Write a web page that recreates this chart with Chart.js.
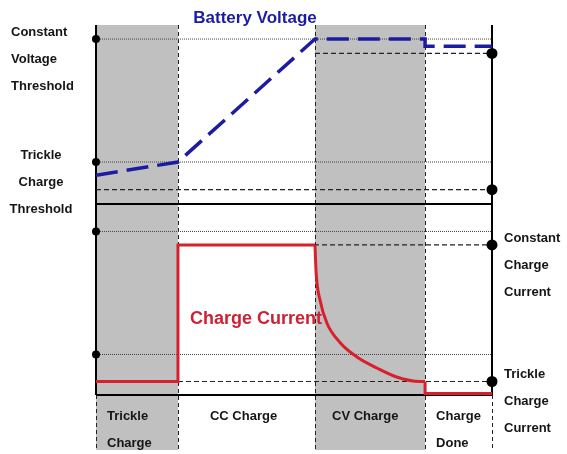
<!DOCTYPE html>
<html><head><meta charset="utf-8">
<script src="https://cdn.jsdelivr.net/npm/chart.js@4/dist/chart.umd.min.js"></script>
<style>html,body{margin:0;padding:0;background:#fff;}#wrap{width:567px;height:454px;position:relative;}</style>
</head><body><div id="wrap"><canvas id="c" width="567" height="454"></canvas></div>
<script>
// ---- data (time in % of cycle, voltage in V, current relative to CC current) ----
const phaseBounds = [0, 20.7, 55.3, 83.1, 100];
const phaseLabels = [["Trickle", "Charge"], ["CC Charge"], ["CV Charge"], ["Charge", "Done"]];
const shadedPhases = [0, 2];
const voltTimes = [0, 20.7, 55.3, 83.1, 83.1, 100];
const voltValues = [2.87, 3.0, 4.2, 4.2, 4.13, 4.13];
const currStepTimes = [0, 20.7, 20.7, 55.3];
const currStepValues = [0.09, 0.09, 1.0, 1.0];
const cvTimes = [55.3, 55.6, 56.6, 58.3, 61.6, 65.8, 70.9, 75.9, 81.8, 83.1];
const cvValues = [1.0, 0.81, 0.63, 0.48, 0.35, 0.255, 0.18, 0.12, 0.09, 0.09];
const doneTimes = [83.1, 83.1, 100];
const doneValues = [0.09, 0.01, 0.01];
const voltThresholds = [4.2, 3.0];
const voltLevels = [4.06, 2.73];
const voltLevelStarts = [55.3, 0];
const currThresholds = [1.09, 0.27];
const currLevels = [1.0, 0.09];
const currLevelStarts = [20.7, 20.7];
const leftLabelGroups = [["Constant", "Voltage", "Threshold"], ["Trickle", "Charge", "Threshold"]];
const rightLabelGroups = [["Constant", "Charge", "Current"], ["Trickle", "Charge", "Current"]];
const voltTitle = "Battery Voltage";
const currTitle = "Charge Current";

// ---- styling / layout ----
const FONT = '"Liberation Sans", Arial, sans-serif';
const BLUE = '#1c1ca2', RED = '#d8202c', GRAY = '#c0c0c0', INK = '#151515';
const pts = (xs, ys) => xs.map((x, i) => ({x, y: ys[i]}));

const datasets = [
  {data: pts(voltTimes, voltValues), yAxisID: 'yV', borderColor: BLUE, borderWidth: 3.5, borderDash: [22, 9], pointRadius: 0, tension: 0},
  {data: pts(currStepTimes, currStepValues), yAxisID: 'yI', borderColor: RED, borderWidth: 3, pointRadius: 0, tension: 0},
  {data: pts(cvTimes, cvValues), yAxisID: 'yI', borderColor: RED, borderWidth: 3, pointRadius: 0, cubicInterpolationMode: 'monotone'},
  {data: pts(doneTimes, doneValues), yAxisID: 'yI', borderColor: RED, borderWidth: 3, pointRadius: 0, tension: 0},
];
function refLine(axis, v, start, dotted) {
  return {data: [{x: start, y: v}, {x: 100, y: v}], yAxisID: axis, borderColor: dotted ? '#444' : '#222', borderWidth: dotted ? 1 : 1.2,
    borderDash: dotted ? [1, 1] : [5, 3], pointRadius: dotted ? [4, 0] : [0, 5.5], pointBackgroundColor: '#000',
    pointBorderWidth: 0, clip: false, tension: 0};
}
voltThresholds.forEach(v => datasets.push(refLine('yV', v, 0, true)));
voltLevels.forEach((v, i) => datasets.push(refLine('yV', v, voltLevelStarts[i], false)));
currThresholds.forEach(v => datasets.push(refLine('yI', v, 0, true)));
currLevels.forEach((v, i) => datasets.push(refLine('yI', v, currLevelStarts[i], false)));

const phaseLabelInset = [11, 32, 17, 11];

const diagram = {
  id: 'diagram',
  beforeDatasetsDraw(chart) {
    const {ctx, chartArea: a, scales: {x, yV, yI}} = chart;
    const bottom = a.bottom + 55;
    ctx.save();
    ctx.fillStyle = GRAY;
    shadedPhases.forEach(p => {
      const x0 = x.getPixelForValue(phaseBounds[p]), x1 = x.getPixelForValue(phaseBounds[p + 1]);
      ctx.fillRect(x0, a.top, x1 - x0, bottom - a.top);
    });
    ctx.strokeStyle = '#222'; ctx.lineWidth = 1; ctx.setLineDash([4, 3]);
    phaseBounds.forEach((b, i) => {
      const px = Math.round(x.getPixelForValue(b)) + 0.5;
      const inner = i > 0 && i < phaseBounds.length - 1;
      ctx.beginPath(); ctx.moveTo(px, inner ? a.top : a.bottom); ctx.lineTo(px, bottom); ctx.stroke();
    });
    ctx.setLineDash([]); ctx.strokeStyle = '#000'; ctx.lineWidth = 2;
    [phaseBounds[0], phaseBounds[phaseBounds.length - 1]].forEach(b => {
      const px = x.getPixelForValue(b);
      ctx.beginPath(); ctx.moveTo(px, a.top); ctx.lineTo(px, a.bottom); ctx.stroke();
    });
    [yV.bottom, yI.getPixelForValue(0)].forEach(py => {
      ctx.beginPath(); ctx.moveTo(a.left, py); ctx.lineTo(a.right, py); ctx.stroke();
    });
    ctx.restore();
  },
  afterDatasetsDraw(chart) {
    const {ctx, chartArea: a, scales: {x, yV, yI}} = chart;
    ctx.save();
    ctx.fillStyle = INK; ctx.textBaseline = 'alphabetic';
    ctx.font = 'bold 13px ' + FONT;
    const lh = 27;
    const leftAnchors = [yV.getPixelForValue(voltThresholds[0]), yV.getPixelForValue(voltThresholds[1])];
    leftLabelGroups.forEach((g, gi) => {
      g.forEach((t, li) => {
        const y = leftAnchors[gi] - 3 + li * lh;
        if (gi === 0) { ctx.textAlign = 'left'; ctx.fillText(t, 11, y); }
        else { ctx.textAlign = 'center'; ctx.fillText(t, 41, y); }
      });
    });
    ctx.textAlign = 'left';
    const rightAnchors = [yI.getPixelForValue(currLevels[0]), yI.getPixelForValue(currLevels[1])];
    rightLabelGroups.forEach((g, gi) => {
      g.forEach((t, li) => ctx.fillText(t, a.right + 12, rightAnchors[gi] - 3 + li * lh));
    });
    phaseLabels.forEach((lines, p) => {
      const x0 = x.getPixelForValue(phaseBounds[p]) + phaseLabelInset[p];
      lines.forEach((t, li) => ctx.fillText(t, x0, a.bottom + 25 + li * lh));
    });
    ctx.textAlign = 'center';
    ctx.font = 'bold 17px ' + FONT; ctx.fillStyle = BLUE;
    ctx.fillText(voltTitle, 255, a.top - 2);
    ctx.font = 'bold 18px ' + FONT; ctx.fillStyle = '#cc2233';
    ctx.fillText(currTitle, 256, yI.getPixelForValue(0.47));
    ctx.restore();
  }
};

new Chart(document.getElementById('c'), {
  type: 'line',
  data: {datasets},
  options: {
    responsive: false, animation: false, devicePixelRatio: 1, events: [],
    layout: {padding: {left: 96, right: 75, top: 25, bottom: 59}},
    plugins: {legend: {display: false}, tooltip: {enabled: false}, title: {display: false}},
    scales: {
      x: {type: 'linear', min: 0, max: 100, display: false},
      yI: {type: 'linear', position: 'left', stack: 'panels', stackWeight: 191, min: 0, max: 1.273, display: false},
      yV: {type: 'linear', position: 'left', stack: 'panels', stackWeight: 179, min: 2.59, max: 4.337, display: false}
    }
  },
  plugins: [diagram]
});
</script></body></html>
